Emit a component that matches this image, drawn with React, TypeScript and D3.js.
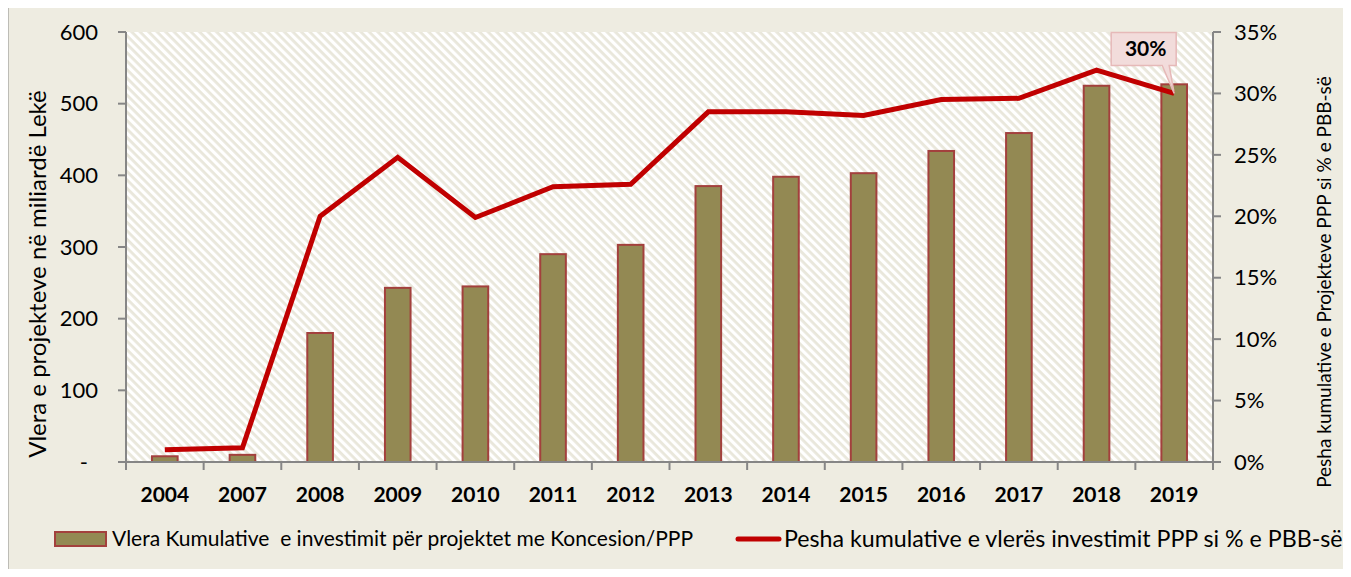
import React from "react";
import * as d3 from "d3";

const years = ["2004", "2007", "2008", "2009", "2010", "2011", "2012", "2013", "2014", "2015", "2016", "2017", "2018", "2019"];
const investmentValues = [8, 10, 180, 243, 245, 290, 303, 385, 398, 403, 434, 459, 525, 527];
const gdpShare = [1.0, 1.15, 20.0, 24.8, 19.9, 22.4, 22.6, 28.5, 28.5, 28.2, 29.5, 29.6, 31.9, 30.0];
const leftTicks = [0, 100, 200, 300, 400, 500, 600];
const rightTicks = [0, 5, 10, 15, 20, 25, 30, 35];
const barLegend = "Vlera Kumulative  e investimit për projektet me Koncesion/PPP";
const lineLegend = "Pesha kumulative e vlerës investimit PPP si % e PBB-së";
const leftTitle = "Vlera e projekteve në miliardë Lekë";
const rightTitle = "Pesha kumulative e Projekteve PPP si % e PBB-së";
const calloutLabel = "30%";

const W = 1351;
const H = 577;
const plot = { left: 126, right: 1213, top: 32, bottom: 462 };
const FONT = "Lato, 'Open Sans', sans-serif";
const BG = "#EEECE1";
const AXIS = "#868686";

export default function App() {
  const x = d3.scaleBand<string>().domain(years).range([plot.left, plot.right]).paddingInner(0.67).paddingOuter(0.335);
  const xb = d3.scaleBand<string>().domain(years).range([plot.left, plot.right]);
  const yL = d3.scaleLinear().domain([0, 600]).range([plot.bottom, plot.top]);
  const yR = d3.scaleLinear().domain([0, 35]).range([plot.bottom, plot.top]);

  const line = d3
    .line<number>()
    .x((_, i) => (xb(years[i]) as number) + xb.bandwidth() / 2)
    .y((d) => yR(d));

  const last = gdpShare.length - 1;
  const tipX = (xb(years[last]) as number) + xb.bandwidth() / 2;
  const tipY = yR(gdpShare[last]);
  const bx0 = tipX - 63, bx1 = tipX + 2, by0 = tipY - 61, by1 = tipY - 28;
  const callout = `M${bx0},${by0} H${bx1} V${by1} H${tipX - 5} L${tipX},${tipY} L${tipX - 12},${by1} H${bx0} Z`;

  return (
    <div style={{ margin: -8, width: W, height: H, overflow: "hidden" }}>
      <svg width={W} height={H} style={{ display: "block" }}>
        <defs>
          <pattern id="hatch" width="6" height="6" patternUnits="userSpaceOnUse" patternTransform="rotate(45)">
            <rect width="6" height="6" fill="#FFFFFF" />
            <rect x="0" y="0" width="6" height="2.8" fill="#E9E7DB" />
          </pattern>
        </defs>
        <rect x={0} y={0} width={W} height={H} fill="#FFFFFF" />
        <rect x={7.5} y={5.5} width={W + 10} height={H + 10} fill={BG} stroke="#8C8C8C" strokeWidth={2} />
        <rect x={plot.left} y={plot.top} width={plot.right - plot.left} height={plot.bottom - plot.top} fill="url(#hatch)" />

        {/* bars */}
        {investmentValues.map((v, i) => (
          <rect
            key={years[i]}
            x={x(years[i])}
            y={yL(v)}
            width={x.bandwidth()}
            height={plot.bottom - yL(v)}
            fill="#938953"
            stroke="#A3403D"
            strokeWidth={2}
          />
        ))}

        {/* axes */}
        <line x1={plot.left} x2={plot.left} y1={plot.top} y2={plot.bottom} stroke={AXIS} strokeWidth={2} />
        <line x1={plot.right} x2={plot.right} y1={plot.top} y2={plot.bottom} stroke={AXIS} strokeWidth={2} />
        <line x1={plot.left} x2={plot.right} y1={plot.bottom} y2={plot.bottom} stroke={AXIS} strokeWidth={2} />
        {leftTicks.map((t) => (
          <g key={"l" + t}>
            <line x1={plot.left - 8} x2={plot.left} y1={yL(t)} y2={yL(t)} stroke={AXIS} strokeWidth={2} />
            <text x={t === 0 ? 88 : 98} y={yL(t)} dy="0.35em" textAnchor="end" fontFamily={FONT} fontSize={22} fill="#000">
              {t === 0 ? "-" : d3.format("d")(t)}
            </text>
          </g>
        ))}
        {rightTicks.map((t) => (
          <g key={"r" + t}>
            <line x1={plot.right} x2={plot.right + 8} y1={yR(t)} y2={yR(t)} stroke={AXIS} strokeWidth={2} />
            <text x={1234} y={yR(t)} dy="0.35em" textAnchor="start" fontFamily={FONT} fontSize={22} fill="#000">
              {t + "%"}
            </text>
          </g>
        ))}
        {years.map((yr, i) => (
          <g key={"x" + yr}>
            <line
              x1={(xb(yr) as number) + xb.bandwidth()}
              x2={(xb(yr) as number) + xb.bandwidth()}
              y1={plot.bottom}
              y2={plot.bottom + 8}
              stroke={AXIS}
              strokeWidth={2}
            />
            {i === 0 && (
              <line x1={plot.left} x2={plot.left} y1={plot.bottom} y2={plot.bottom + 8} stroke={AXIS} strokeWidth={2} />
            )}
            <text
              x={(xb(yr) as number) + xb.bandwidth() / 2}
              y={495}
              dy="0.35em"
              textAnchor="middle"
              fontFamily={FONT}
              fontWeight="bold"
              fontSize={21}
              fill="#000"
            >
              {yr}
            </text>
          </g>
        ))}

        {/* line */}
        <path d={line(gdpShare) || ""} fill="none" stroke="#C00000" strokeWidth={5} strokeLinejoin="miter" />

        {/* callout */}
        <path d={callout} fill="#F2DCDB" stroke="#E6B9B8" strokeWidth={1.5} />
        <text x={(bx0 + bx1) / 2 + 2} y={(by0 + by1) / 2} dy="0.35em" textAnchor="middle" fontFamily={FONT} fontWeight="bold" fontSize={21} fill="#000">
          {calloutLabel}
        </text>

        {/* axis titles */}
        <text transform={`translate(38,274) rotate(-90)`} dy="0.35em" textAnchor="middle" fontFamily={FONT} fontSize={24} fill="#000">
          {leftTitle}
        </text>
        <text transform={`translate(1324,282) rotate(-90)`} dy="0.35em" textAnchor="middle" fontFamily={FONT} fontSize={19} fill="#000">
          {rightTitle}
        </text>

        {/* legend */}
        <rect x={55} y={532} width={51} height={14} fill="#938953" stroke="#A3403D" strokeWidth={2} />
        <text x={112} y={539} dy="0.35em" fontFamily={FONT} fontSize={21} fill="#000" style={{ whiteSpace: "pre" }}>
          {barLegend}
        </text>
        <line x1={738} x2={779} y1={539} y2={539} stroke="#C00000" strokeWidth={5} strokeLinecap="round" />
        <text x={784} y={539} dy="0.35em" fontFamily={FONT} fontSize={23.2} fill="#000">
          {lineLegend}
        </text>
      </svg>
    </div>
  );
}
